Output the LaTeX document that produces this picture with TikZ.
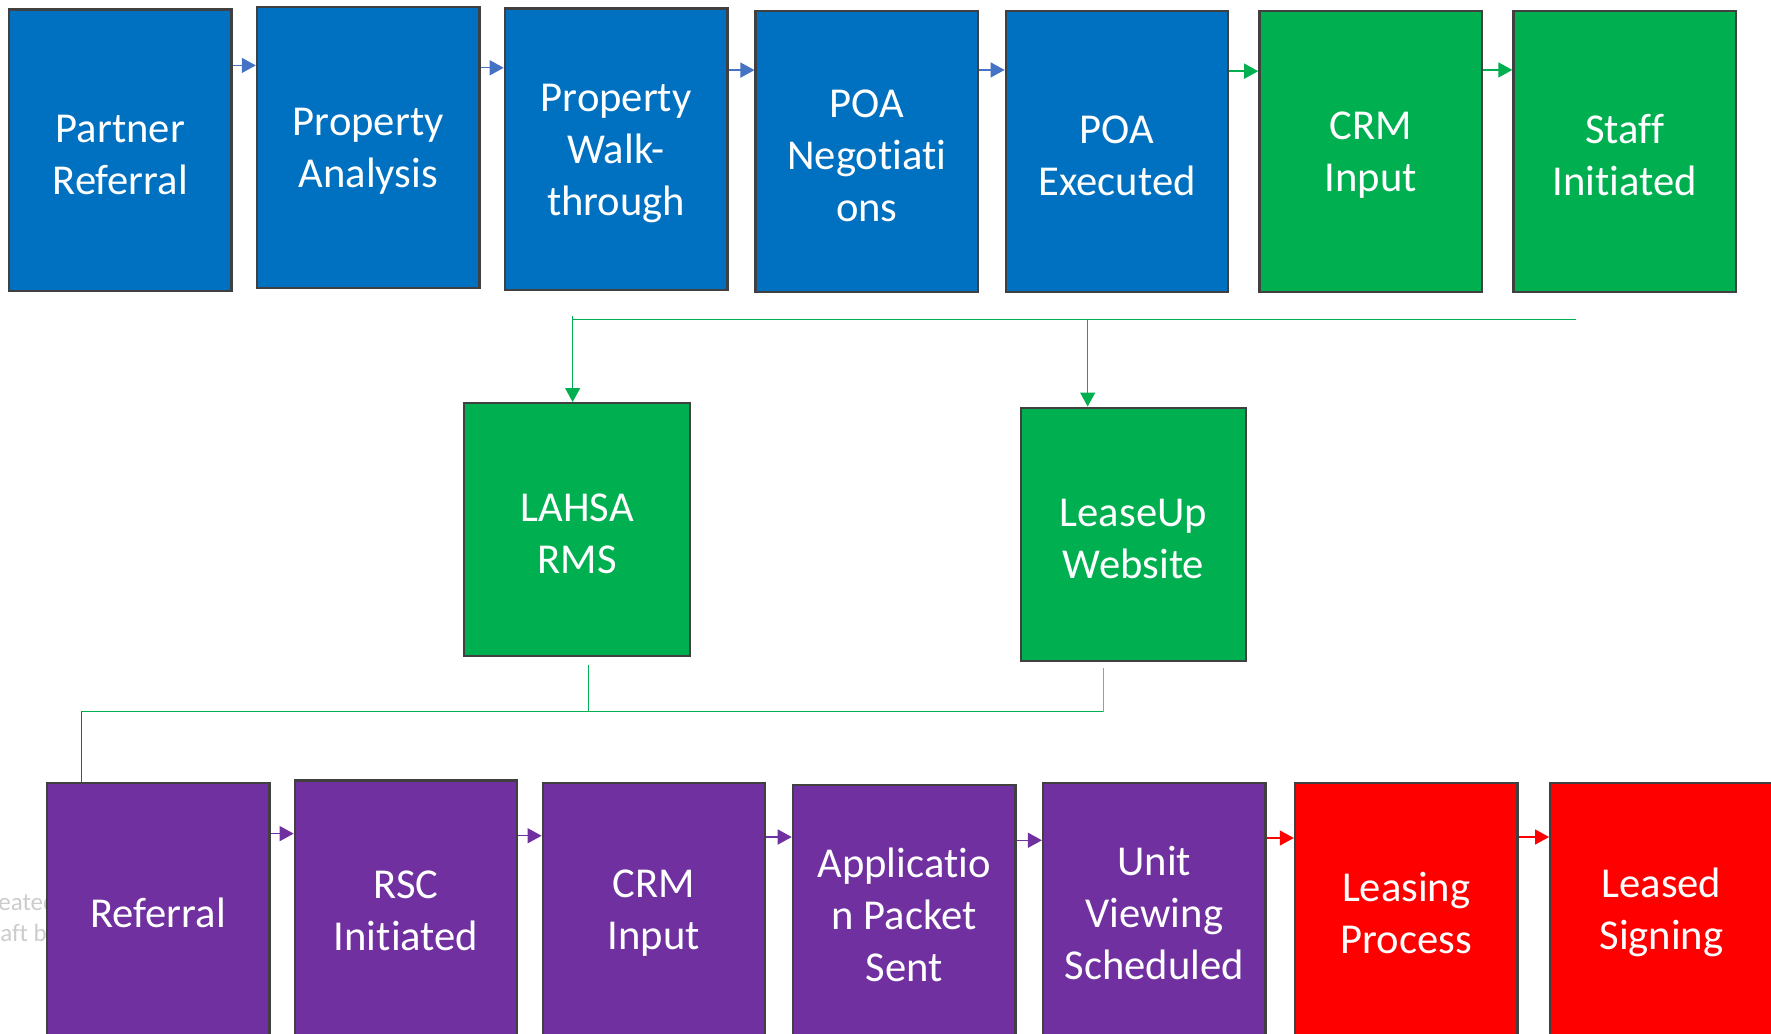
\documentclass[tikz,border=0pt]{standalone}
\usepackage{fontspec}
\setmainfont{Carlito}[Ligatures=NoCommon]
\usetikzlibrary{arrows.meta}

\definecolor{stepblue}{HTML}{0070C0}
\definecolor{stepgreen}{HTML}{00B050}
\definecolor{steppurple}{HTML}{7030A0}
\definecolor{stepred}{HTML}{FF0000}
\definecolor{boxedge}{HTML}{404040}
\definecolor{arrowblue}{HTML}{4472C4}
\definecolor{stubblue}{HTML}{7F9FD5}
\definecolor{notegray}{HTML}{CCCCCC}

% pushes the text of a box a little down
\newcommand{\lift}{\rule{0pt}{18pt}}

\tikzset{
  lowstage/.style={draw=boxedge, line width=1.2pt, text=white, align=center,
    inner sep=0pt, minimum width=111.2pt, minimum height=129.9pt,
    font=\fontsize{21.3}{26}\selectfont},
  stage/.style={lowstage, minimum height=140.6pt},
  flow/.style={-{Triangle[length=7pt,width=7.5pt]}, line width=0.7pt},
  link/.style={line width=0.6pt},
  note/.style={text=notegray, align=left, inner sep=0pt,
    font=\fontsize{12.5}{15.8}\selectfont}
}

\begin{document}
\begin{tikzpicture}[x=0.5647pt,y=-0.5647pt]
  \useasboundingbox (0,0) rectangle (1568,915);

  % faint note, mostly hidden behind the first box
  \node[note, anchor=west] (note) at (-21,814) {Created\\Draft by};

  % top row
  \node[stage, fill=stepblue] (partner) at (106.5,133) {\lift Partner\\Referral};
  \node[stage, fill=stepblue] (analysis) at (326,130.5) {\lift Property\\Analysis};
  \node[stage, fill=stepblue] (walk) at (545.5,132) {\lift Property\\Walk-\\through};
  \node[stage, fill=stepblue] (nego) at (767.5,134) {\lift POA\\Negotiati\\ons};
  \node[stage, fill=stepblue] (exec) at (989,134) {\lift POA\\Executed};
  \node[stage, fill=stepgreen] (crmtop) at (1213.5,134) {\lift CRM\\Input};
  \node[stage, fill=stepgreen] (staff) at (1438.5,134) {\lift Staff\\Initiated};

  \draw[flow, arrowblue] ([yshift=42.4pt]partner.east) -- ([yshift=42.4pt]partner.east -| analysis.west);
  \draw[flow, arrowblue] ([yshift=39.8pt]analysis.east) -- ([yshift=39.8pt]analysis.east -| walk.west);
  \draw[flow, arrowblue] ([yshift=39.5pt]walk.east) -- ([yshift=39.5pt]walk.east -| nego.west);
  \draw[flow, arrowblue] ([yshift=40.7pt]nego.east) -- ([yshift=40.7pt]nego.east -| exec.west);
  \draw[flow, stepgreen] ([yshift=40.1pt]exec.east) -- ([yshift=40.1pt]exec.east -| crmtop.west);
  \draw[flow, stepgreen] ([yshift=40.7pt]crmtop.east) -- ([yshift=40.7pt]crmtop.east -| staff.west);

  % middle row
  \node[stage, fill=stepgreen, minimum width=112.9pt, minimum height=126.5pt]
    (lahsa) at (511,469) {\lift LAHSA\\RMS};
  \node[stage, fill=stepgreen, minimum width=112.4pt, minimum height=126.5pt]
    (lease) at (1003.5,473) {\lift LeaseUp\\Website};

  \coordinate (gstart) at (1395,283);
  \coordinate (gleft) at (507,283);
  \coordinate (gmid) at (963,283);

  \draw[link, stepgreen] (gstart) -- (gleft);
  \draw[flow, stepgreen, line width=0.6pt] ([yshift=2pt]gleft) -- (gleft |- lahsa.north);
  \draw[flow, stepgreen, line width=0.6pt] (gmid) -- (gmid |- lease.north);

  \coordinate (lstub) at (521,589);
  \coordinate (wstub) at (977,591);
  \coordinate (bleft) at (72,630);
  \coordinate (bright) at (977,630);

  \draw[link, stepgreen] (lstub) -- (lstub |- bleft);
  \draw[link, stubblue] (wstub) -- (bright);
  \draw[link, stepgreen] (bleft) -- (bright);

  % bottom row
  \node[lowstage, fill=steppurple] (referral) at (140,808) {Referral};
  \node[lowstage, fill=steppurple] (rsc) at (359.5,806) {RSC\\Initiated};
  \node[lowstage, fill=steppurple] (crmlow) at (579,808) {CRM\\Input};
  \node[lowstage, fill=steppurple] (packet) at (800.5,810) {Applicatio\\n Packet\\Sent};
  \node[lowstage, fill=steppurple] (unit) at (1022,808) {Unit\\Viewing\\Scheduled};
  \node[lowstage, fill=stepred] (process) at (1245,808) {Leasing\\Process};
  \node[lowstage, fill=stepred] (signing) at (1471,808) {Leased\\Signing};

  \draw[link, steppurple] (bleft) -- (bleft |- referral.north);

  \draw[flow, steppurple] ([yshift=39.5pt]referral.east) -- ([yshift=39.5pt]referral.east -| rsc.west);
  \draw[flow, steppurple] ([yshift=37.3pt]rsc.east) -- ([yshift=37.3pt]rsc.east -| crmlow.west);
  \draw[flow, steppurple] ([yshift=37.8pt]crmlow.east) -- ([yshift=37.8pt]crmlow.east -| packet.west);
  \draw[flow, steppurple] ([yshift=37.3pt]packet.east) -- ([yshift=37.3pt]packet.east -| unit.west);
  \draw[flow, stepred] ([yshift=37.3pt]unit.east) -- ([yshift=37.3pt]unit.east -| process.west);
  \draw[flow, stepred] ([yshift=37.8pt]process.east) -- ([yshift=37.8pt]process.east -| signing.west);
\end{tikzpicture}
\end{document}
